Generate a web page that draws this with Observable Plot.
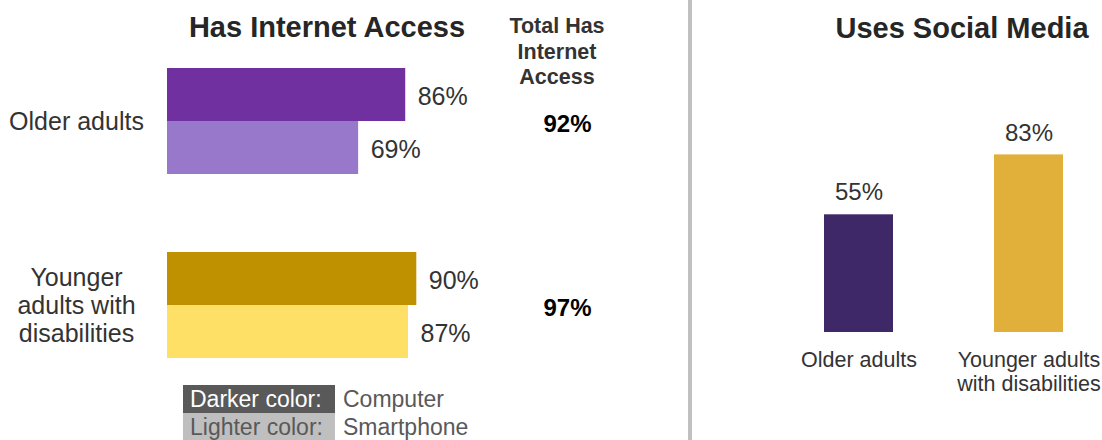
<!DOCTYPE html>
<html><head><meta charset="utf-8">
<script src="https://cdn.jsdelivr.net/npm/d3@7"></script>
<script src="https://cdn.jsdelivr.net/npm/@observablehq/plot@0.6"></script>
<style>
html,body{margin:0;padding:0;background:#fff;}
#wrap{position:relative;width:1102px;height:440px;overflow:hidden;font-family:"Liberation Sans",Arial,sans-serif;color:#333;}
.abs{position:absolute;}
#left{left:0;top:0;}
#right{left:692px;top:0;}
#divider{left:688px;top:0;width:4px;height:440px;background:#c0c0c0;}
.title{font-weight:bold;font-size:29px;line-height:34px;text-align:center;color:#262626;white-space:nowrap;}
.sub{font-weight:bold;font-size:21.5px;line-height:25.5px;text-align:center;color:#333;}
#legend{left:183px;top:385px;font-size:23px;}
#legend .row{display:flex;height:28px;line-height:28px;}
#legend .key{display:inline-block;width:152px;box-sizing:border-box;padding-left:7px;white-space:nowrap;}
#legend .val{margin-left:8px;color:#595959;white-space:nowrap;}
</style>
</head><body>
<div id="wrap">
  <div id="left" class="abs"></div>
  <div id="divider" class="abs"></div>
  <div id="right" class="abs"></div>
  <div id="t1" class="abs title" style="left:127px;top:10px;width:400px;"></div>
  <div id="t2" class="abs sub" style="left:487px;top:14px;width:140px;"></div>
  <div id="t3" class="abs title" style="left:812px;top:11px;width:300px;"></div>
  <div id="legend" class="abs"></div>
</div>
<script>
// ---- data ----
const groups = ["Older adults", "Younger adults with disabilities"];
const groupLabelsLeft = ["Older adults", "Younger\nadults with\ndisabilities"];
const groupLabelsRight = ["Older adults", "Younger adults\nwith disabilities"];
const devices = ["Computer", "Smartphone"];
const computerPct = [86, 90];
const smartphonePct = [69, 87];
const totalPct = [92, 97];
const socialPct = [55, 83];
const titles = ["Has Internet Access", "Total Has\nInternet\nAccess", "Uses Social Media"];
const legendKeys = ["Darker color:", "Lighter color:"];

// ---- styles ----
const computerColors = ["#7030a0", "#bf9000"];
const smartphoneColors = ["#9778cb", "#ffe066"];
const socialColors = ["#3e2868", "#e1b03b"];
const legendBg = ["#595959", "#bfbfbf"];
const legendFg = ["#ffffff", "#595959"];
const font = '"Liberation Sans", Arial, sans-serif';

// ---- tables ----
const rows = [];
groups.forEach((g, i) => {
  rows.push({group: g, device: devices[0], value: computerPct[i], color: computerColors[i]});
  rows.push({group: g, device: devices[1], value: smartphonePct[i], color: smartphoneColors[i]});
});
const totals = groups.map((g, i) => ({group: g, value: totalPct[i]}));
const social = groups.map((g, i) => ({group: g, value: socialPct[i], color: socialColors[i]}));

// ---- left chart ----
const left = Plot.plot({
  width: 688, height: 440,
  marginTop: 67, marginBottom: 81, marginLeft: 167, marginRight: 244,
  x: {domain: [0, 100], axis: null},
  y: {domain: devices, padding: 0, axis: null},
  fy: {domain: groups, paddingInner: 0.4216, paddingOuter: 0, axis: null},
  color: {type: "identity"},
  style: {fontFamily: font, color: "#333", background: "transparent", overflow: "visible"},
  marks: [
    Plot.barX(rows, {fy: "group", y: "device", x: "value", fill: "color"}),
    Plot.text(rows, {fy: "group", y: "device", x: "value", text: d => d.value + "%", dx: 12, dy: 2, textAnchor: "start", fontSize: 25, fill: "#333"}),
    Plot.text(totals, {fy: "group", text: d => d.value + "%", frameAnchor: "right", textAnchor: "middle", dx: 123, dy: 3, fontSize: 24, fontWeight: "bold", fill: "#000"}),
    Plot.text(groups, {fy: d => d, text: d => groupLabelsLeft[groups.indexOf(d)], frameAnchor: "left", dx: -91, textAnchor: "middle", lineHeight: 1.12, fontSize: 25, fill: "#333"})
  ]
});
document.getElementById("left").appendChild(left);

// ---- right chart ----
const right = Plot.plot({
  width: 410, height: 440,
  marginTop: 118, marginBottom: 108, marginLeft: 97, marginRight: 5,
  x: {domain: groups, paddingInner: 0.596, paddingOuter: 0.2, axis: null},
  y: {domain: [0, 100], axis: null},
  color: {type: "identity"},
  style: {fontFamily: font, color: "#333", background: "transparent", overflow: "visible"},
  marks: [
    Plot.barY(social, {x: "group", y: "value", fill: "color"}),
    Plot.text(social, {x: "group", y: "value", text: d => d.value + "%", dy: -22, fontSize: 24, fill: "#333"}),
    Plot.axisX({tickSize: 0, tickPadding: 17, fontSize: 21.5, lineHeight: 1.14, label: null, tickFormat: d => groupLabelsRight[groups.indexOf(d)]})
  ]
});
document.getElementById("right").appendChild(right);

// ---- titles & legend ----
document.getElementById("t1").textContent = titles[0];
document.getElementById("t2").innerHTML = titles[1].split("\n").join("<br>");
document.getElementById("t3").textContent = titles[2];
const lg = document.getElementById("legend");
legendKeys.forEach((k, i) => {
  const row = document.createElement("div"); row.className = "row";
  const key = document.createElement("span"); key.className = "key";
  key.textContent = k; key.style.background = legendBg[i]; key.style.color = legendFg[i];
  const val = document.createElement("span"); val.className = "val"; val.textContent = devices[i];
  row.appendChild(key); row.appendChild(val); lg.appendChild(row);
});
</script>
</body></html>
